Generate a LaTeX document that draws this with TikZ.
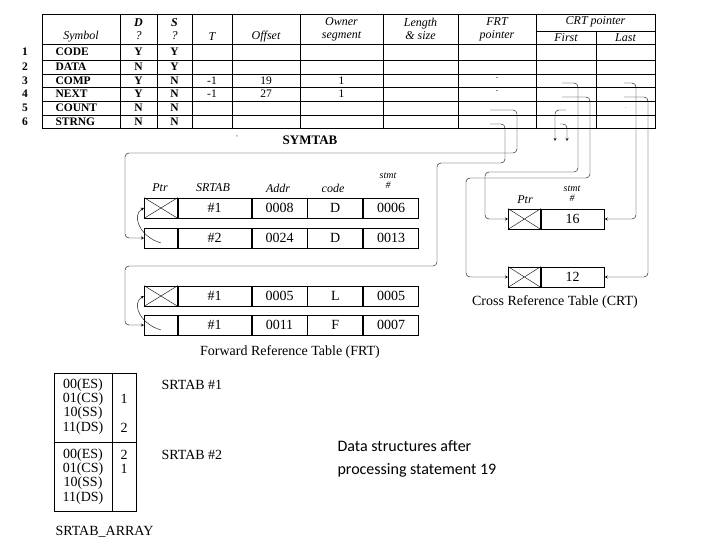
\documentclass[tikz,border=0pt]{standalone}
\usepackage{fontspec}
\setmainfont{Liberation Serif}
\newfontfamily\notefont{Carlito}
\usetikzlibrary{positioning,calc}
\begin{document}
\begin{tikzpicture}[x=1pt,y=-1pt,
    cell/.style={draw, thick, minimum height=20pt, inner sep=0pt, anchor=west, font=\fontsize{14}{14}\selectfont},
    hdr/.style={align=center, inner sep=1pt, font=\fontsize{12}{13}\selectfont\itshape},
    sym/.style={font=\fontsize{11.5}{10}\selectfont\bfseries},
    arr/.style={font=\fontsize{14}{14}\selectfont},
    link/.style={->, >=stealth, rounded corners=4pt}
]
\useasboundingbox (0,0) rectangle (720,540);

% SYMTAB
\draw[thick] (42,14) rectangle (655,128);
\draw[thick] (42,44) -- (655,44);
\foreach \y in {60,74,87,101,115} \draw (42,\y) -- (655,\y);
\foreach \x in {120,157,192,232,300,383,458,536} \draw[thick] (\x,14) -- (\x,128);
\draw (536,31) -- (655,31);
\draw (596,31) -- (596,128);
\node[hdr] (hsym) at (81,37) {Symbol};
\node[hdr] (hd) at (138.5,29) {\textbf{D}\\?};
\node[hdr] (hs) at (174.5,29) {\textbf{S}\\?};
\node[hdr] (ht) at (212,37) {T};
\node[hdr] (hoff) at (266,37) {Offset};
\node[hdr] (hown) at (341.5,29) {Owner\\segment};
\node[hdr] (hlen) at (420.5,29) {Length\\\& size};
\node[hdr] (hfrt) at (497,29) {FRT\\pointer};
\node[hdr] (hcrt) at (595.5,22) {CRT pointer};
\node[hdr] (hfirst) at (566,38) {First};
\node[hdr] (hlast) at (625.5,38) {Last};
\foreach \i/\y/\s/\d/\e in {1/52/CODE/Y/Y, 2/67/DATA/N/Y, 3/80.5/COMP/Y/N, 4/94/NEXT/Y/N, 5/108/COUNT/N/N, 6/121.5/STRNG/N/N} {
  \node[sym] (n\i) at (25,\y) {\i};
  \node[sym, anchor=west] (s\i) at (52,\y) {\s};
  \node[sym] (d\i) at (138.5,\y) {\d};
  \node[sym] (e\i) at (174.5,\y) {\e};
}
\foreach \i/\y/\o in {3/80.5/19, 4/94/27} {
  \node[sym, font=\fontsize{11.5}{10}\selectfont] (t\i) at (212,\y) {-1};
  \node[sym, font=\fontsize{11.5}{10}\selectfont] (o\i) at (266,\y) {\o};
  \node[sym, font=\fontsize{11.5}{10}\selectfont] (g\i) at (341.5,\y) {1};
  \node[font=\scriptsize] (fp\i) at (497,\y-2) {-};
}
\node[font=\fontsize{13}{10}\selectfont\bfseries] (symtab) at (310,140) {SYMTAB};
\node[font=\tiny] (tick) at (237,137) {\textbf{,}};

% FRT
\node[hdr] (hptr) at (160,188) {Ptr};
\node[hdr] (hsr) at (213,188) {SRTAB};
\node[hdr] (haddr) at (278,188) {Addr};
\node[hdr] (hcode) at (333,188) {code};
\node[hdr, font=\fontsize{10}{10}\selectfont\itshape] (hstmt) at (388,181) {stmt\\\#};
\foreach \r/\y/\s/\a/\c/\n in {a1/208/\#1/0008/D/0006, a2/238/\#2/0024/D/0013, b1/296/\#1/0005/L/0005, b2/325/\#1/0011/F/0007} {
  \node[cell, minimum width=33pt] (f\r p) at (144,\y) {};
  \node[cell, minimum width=73pt, right=0pt of f\r p] (f\r s) {\s};
  \node[cell, minimum width=55pt, right=0pt of f\r s] (f\r a) {\a};
  \node[cell, minimum width=55pt, right=0pt of f\r a] (f\r c) {\c};
  \node[cell, minimum width=55pt, right=0pt of f\r c] (f\r n) {\n};
}
\node[arr] (frtcap) at (290,352) {Forward Reference Table (FRT)};

% CRT
\node[hdr] (hcptr) at (525,200) {Ptr};
\node[hdr, font=\fontsize{10}{10}\selectfont\itshape] (hcstmt) at (572,194) {stmt\\\#};
\node[cell, minimum width=32pt] (crt1p) at (508,219) {};
\node[cell, minimum width=63pt, right=0pt of crt1p] (crt1v) {16};
\node[cell, minimum width=32pt] (crt2p) at (508,277) {};
\node[cell, minimum width=63pt, right=0pt of crt2p] (crt2v) {12};
\node[arr] (crtcap) at (555,302) {Cross Reference Table (CRT)};

\foreach \b in {fa1p, fb1p, crt1p, crt2p}
  \draw (\b.north west) -- (\b.south east) (\b.south west) -- (\b.north east);

% links inside FRT
\draw[link] ($(fa2p.center)+(0,5)$) .. controls (138,236) and (132,214) .. (fa1p.west);
\draw[link] ($(fb2p.center)+(0,5)$) .. controls (138,323) and (132,302) .. (fb1p.west);

% SYMTAB -> FRT
\coordinate (p5) at (490,110);
\coordinate (p6) at (490,124);
\draw[link] (p5) -- (517,110) -- (517,153) -- (125,153) -- (125,238) -- (fa2p.west);
\draw[link] (p6) -- (505,124) -- (505,163) -- (437,163) -- (437,266) -- (125,266) -- (125,325) -- (fb2p.west);

% SYMTAB -> CRT
\coordinate (c3f) at (562,83);
\coordinate (c4f) at (562,97);
\coordinate (c3l) at (624,83);
\coordinate (c4l) at (624,97);
\draw[link] (c3f) -- (578,83) -- (578,172) -- (485,172) -- (485,219) -- (crt1p.west);
\draw[link] (c4f) -- (590,97) -- (590,178) -- (466,178) -- (466,277) -- (crt2p.west);
\draw[link] (c3l) -- (636,83) -- (636,219) -- (crt1v.east);
\draw[link] (c4l) -- (648,97) -- (648,277) -- (crt2v.east);
\coordinate (c5f) at (566,110);
\coordinate (c6f) at (560,124);
\draw[link] (c5f) -- (555,110) -- (555,141);
\draw[link] (c6f) -- (567,124) -- (567,141);
\node[font=\tiny] (dot5) at (626,108) {.};

% SRTAB_ARRAY
\draw[thick] (54,373) rectangle (136,511);
\draw[thick] (112,373) -- (112,511);
\draw[thick] (54,442) -- (136,442);
\foreach \k/\y/\t/\v in {1/385/00(ES)/, 2/399/01(CS)/1, 3/413/10(SS)/, 4/428/11(DS)/2, 5/455/00(ES)/2, 6/469/01(CS)/1, 7/483/10(SS)/, 8/498/11(DS)/} {
  \node[arr] (reg\k) at (83,\y) {\t};
  \node[arr] (val\k) at (124,\y) {\v};
}
\node[arr, anchor=west] (sr1) at (158,385) {SRTAB \#1};
\node[arr, anchor=west] (sr2) at (158,455) {SRTAB \#2};
\node[arr, anchor=west] (sra) at (52,532) {SRTAB\_ARRAY};

\node[anchor=west, align=left, font=\notefont\fontsize{16}{23}\selectfont] (note) at (334,459) {Data structures after\\processing statement 19};
\end{tikzpicture}
\end{document}
